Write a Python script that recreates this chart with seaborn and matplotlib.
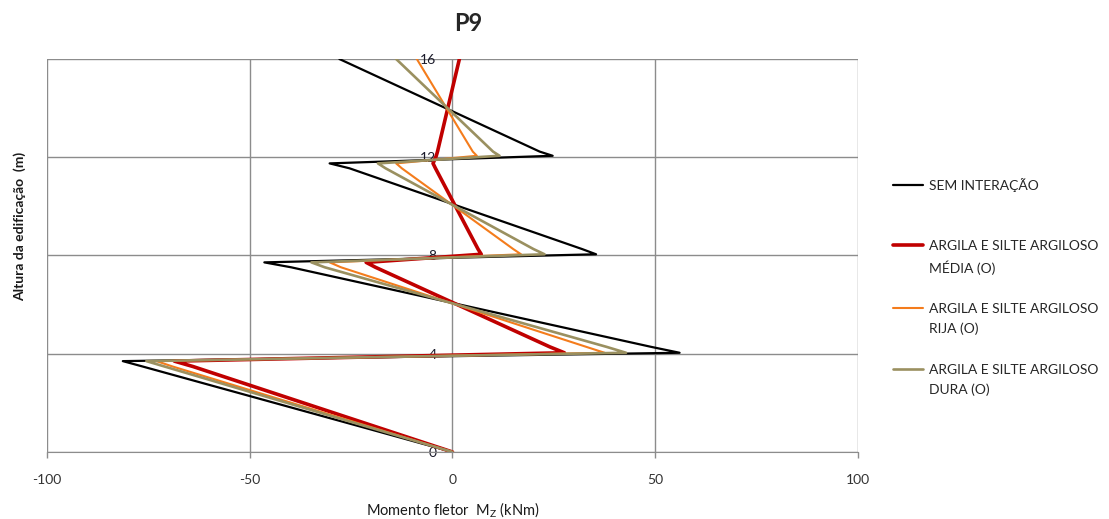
import matplotlib
matplotlib.use("Agg")
import matplotlib.pyplot as plt
from matplotlib.lines import Line2D
import pandas as pd
import seaborn as sns

# altura (m) dos pontos de cada curva
heights = [0, 3.48, 3.70, 4.04, 4.28, 7.52, 7.72, 8.05, 8.26, 11.55, 11.75, 12.06, 12.23, 16]

# momento fletor Mz (kNm)
sem_interacao = [0, -76.4, -81.3, 56.0, 49.0, -39.8, -46.4, 35.4, 32.0, -25.4, -30.3, 24.7, 21.5, -27.9]
argila_media = [0, -64.0, -68.6, 27.6, 24.0, -19.0, -21.3, 7.1, 6.3, -4.2, -4.8, -4.0, -3.7, 1.7]
argila_rija = [0, -69.0, -73.0, 37.5, 33.0, -27.5, -30.3, 16.9, 15.0, -12.5, -13.9, 6.0, 5.0, -8.8]
argila_dura = [0, -71.0, -75.5, 42.8, 38.0, -31.5, -34.8, 22.7, 20.0, -16.5, -18.4, 11.6, 10.0, -13.9]

series_names = ["SEM INTERAÇÃO",
                "ARGILA E SILTE ARGILOSO\nMÉDIA (O)",
                "ARGILA E SILTE ARGILOSO\nRIJA (O)",
                "ARGILA E SILTE ARGILOSO\nDURA (O)"]
series_values = [sem_interacao, argila_media, argila_rija, argila_dura]
colors = ["#000000", "#C00000", "#F47C1C", "#9A9060"]
widths = [1.6, 2.6, 1.5, 1.9]

x_ticks = [-100, -50, 0, 50, 100]
y_ticks = [0, 4, 8, 12, 16]

sns.set_style("white")
plt.rcParams["font.family"] = ["Lato", "DejaVu Sans"]
plt.rcParams["axes.unicode_minus"] = False

rows = []
for name, vals in zip(series_names, series_values):
    for h, m in zip(heights, vals):
        rows.append({"serie": name, "altura": h, "momento": m})
df = pd.DataFrame(rows)

fig = plt.figure(figsize=(11.09, 5.19), dpi=100)
ax = fig.add_axes([47 / 1109, 67 / 519, 811 / 1109, 393 / 519])

for name, color, lw in zip(series_names, colors, widths):
    sns.lineplot(data=df[df["serie"] == name], x="momento", y="altura", sort=False,
                 estimator=None, color=color, linewidth=lw, ax=ax, legend=False)

ax.set_xlim(-100, 100)
ax.set_ylim(0, 16)
ax.set_xticks(x_ticks)
ax.set_yticks(y_ticks)
ax.grid(True, color="#8c8c8c", linewidth=1.0)
ax.set_axisbelow(True)

ax.spines[["top", "right"]].set_visible(False)
ax.spines["left"].set_position(("data", 0))
ax.spines["left"].set_visible(False)
ax.spines["bottom"].set_color("#8c8c8c")

ax.tick_params(axis="y", length=0, pad=11.5, labelsize=10, labelcolor="#1a1a2a")
ax.tick_params(axis="x", bottom=True, direction="out", length=4.5, width=1, color="#8c8c8c",
               pad=11, labelsize=10, labelcolor="#333333")

ax.set_xlabel("Momento fletor  M$_\\mathregular{Z}$ (kNm)", fontsize=10.5, color="#1a1a1a", labelpad=11)
ax.set_ylabel("")
fig.text(20 / 1109, 1 - 226 / 519, "Altura da edificação  (m)", rotation=90, ha="center", va="center",
         fontsize=10, fontweight="bold", color="#1a1a1a")
ax.set_title("P9", x=(468 - 47) / 811, pad=20, fontsize=17, fontweight="bold")

# legenda: uma linha por texto, com linhas em branco para manter o espacamento
handles, labels = [], []
for i, (name, color, lw) in enumerate(zip(series_names, colors, widths)):
    parts = name.split("\n")
    handles.append(Line2D([], [], color=color, linewidth=lw))
    labels.append(parts[0])
    for extra in parts[1:]:
        handles.append(Line2D([], [], color="none"))
        labels.append(extra)
    if i < len(series_names) - 1:
        n_blank = 2 if len(parts) == 1 else 1
        for _ in range(n_blank):
            handles.append(Line2D([], [], color="none"))
            labels.append(" ")

leg = ax.legend(handles, labels, loc="upper left", bbox_to_anchor=(893 / 1109, 1 - 178 / 519),
                bbox_transform=fig.transFigure, frameon=False, fontsize=10, handlelength=2.15,
                handletextpad=0.45, labelspacing=0.58, borderpad=0, borderaxespad=0)
for t in leg.get_texts():
    t.set_color("#262626")

fig.savefig("out.png", dpi=100)
